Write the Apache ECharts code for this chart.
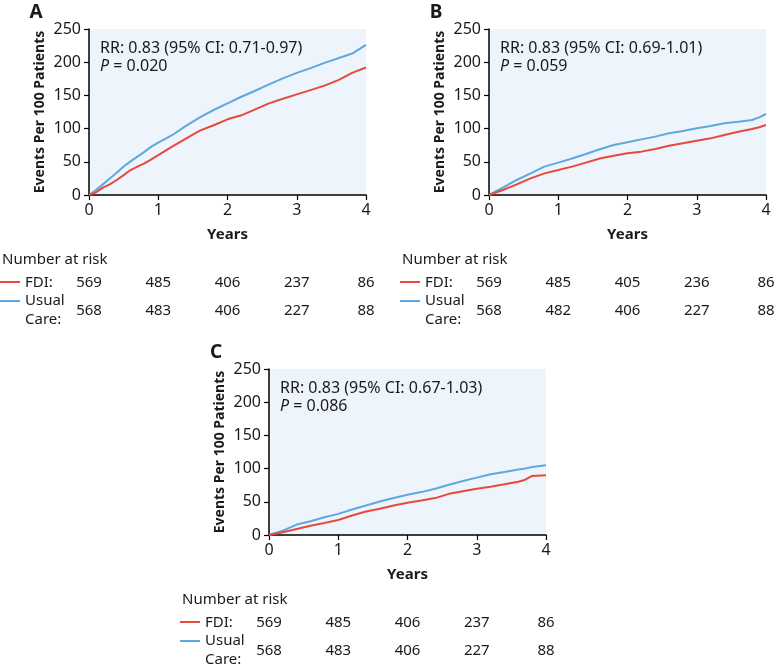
<!DOCTYPE html>
<html>
<head>
<meta charset="utf-8">
<script src="https://cdn.jsdelivr.net/npm/echarts@6/dist/echarts.min.js"></script>
<style>
html,body{margin:0;padding:0;background:#fff;}
#main{width:777px;height:669px;}
</style>
</head>
<body>
<div id="main"></div>
<script>
// ---------- DATA ----------
const panelLabels = ['A', 'B', 'C'];
const rrTexts = ['RR: 0.83 (95% CI: 0.71-0.97)', 'RR: 0.83 (95% CI: 0.69-1.01)', 'RR: 0.83 (95% CI: 0.67-1.03)'];
const pValues = ['0.020', '0.059', '0.086'];

const aTime  = [0, 0.1, 0.2, 0.3, 0.4, 0.5, 0.6, 0.7, 0.8, 0.9, 1.0, 1.2, 1.4, 1.6, 1.8, 2.0, 2.2, 2.4, 2.6, 2.8, 3.0, 3.2, 3.4, 3.6, 3.8, 4.0];
const aFdi   = [0, 4, 11, 16, 22.6, 30, 37.6, 42.7, 47.7, 53.7, 60, 72.8, 85, 97, 105, 114, 120, 129, 138, 145, 151.6, 158, 164.7, 173, 184, 192];
const aUsual = [0, 7.5, 16, 25, 33.6, 43, 50.7, 57.7, 65, 72.8, 79, 90, 104, 117, 128, 138, 148, 157, 166.7, 175.7, 184, 191, 199, 206, 213, 226];

const bTime  = [0, 0.2, 0.4, 0.6, 0.8, 1.0, 1.2, 1.4, 1.6, 1.8, 2.0, 2.2, 2.4, 2.6, 2.8, 3.0, 3.2, 3.4, 3.6, 3.8, 3.9, 4.0];
const bFdi   = [0, 7.5, 16, 25, 32.6, 37.6, 42.7, 48.7, 55, 59, 62.8, 65.3, 69.3, 74.3, 77.8, 81.8, 85.3, 90.4, 95.4, 99.4, 102, 105.4];
const bUsual = [0, 11, 22.6, 32.6, 42.7, 48.7, 55, 61.7, 68.8, 75.3, 79.3, 83.8, 87.9, 92.9, 96.4, 100.4, 104, 108, 110.4, 113, 117, 122];

const cTime  = [0, 0.2, 0.4, 0.6, 0.8, 1.0, 1.2, 1.4, 1.6, 1.8, 2.0, 2.2, 2.4, 2.6, 2.8, 3.0, 3.2, 3.4, 3.6, 3.7, 3.8, 4.0];
const cFdi   = [0, 4, 9, 14, 18, 22.7, 29.3, 35.4, 39.4, 44.4, 48.5, 52, 55.6, 62, 66, 69.7, 72.7, 76.3, 80.3, 83.3, 88.9, 90];
const cUsual = [0, 6.6, 15.7, 20.7, 26.8, 31.8, 38.4, 44.4, 50.5, 55.6, 60.6, 64.6, 69.7, 75.8, 81.3, 86.4, 91.4, 95, 98.5, 100, 102.5, 105];

const riskYears = [0, 1, 2, 3, 4];
const aRiskFdi = [569, 485, 406, 237, 86];
const aRiskUsual = [568, 483, 406, 227, 88];
const bRiskFdi = [569, 485, 405, 236, 86];
const bRiskUsual = [568, 482, 406, 227, 88];
const cRiskFdi = [569, 485, 406, 237, 86];
const cRiskUsual = [568, 483, 406, 227, 88];

const yTicks = [0, 50, 100, 150, 200, 250];
const xTicks = [0, 1, 2, 3, 4];

// ---------- STYLE / LAYOUT ----------
const FONT = '"Noto Sans", "Open Sans", sans-serif';
const RED = '#e8493b';
const BLUE = '#5ea8de';
const TXT = '#1a1a1a';
const offsets = [[0, 0], [400, 0], [180, 340]];
const times = [aTime, bTime, cTime];
const fdis = [aFdi, bFdi, cFdi];
const usuals = [aUsual, bUsual, cUsual];
const riskF = [aRiskFdi, bRiskFdi, cRiskFdi];
const riskU = [aRiskUsual, bRiskUsual, cRiskUsual];

const pairs = (t, v) => t.map((x, i) => [x, v[i]]);

const grids = [], xAxes = [], yAxes = [], series = [];
offsets.forEach(([dx, dy], i) => {
  grids.push({left: 89 + dx, top: 29 + dy, width: 277, height: 166,
    show: true, backgroundColor: '#eef4fb', borderWidth: 0, containLabel: false});
  xAxes.push({type: 'value', gridIndex: i, min: xTicks[0], max: xTicks[xTicks.length - 1], interval: 1,
    axisLine: {show: true, onZero: false, lineStyle: {color: '#000', width: 1.5}},
    axisTick: {show: true, length: 5, lineStyle: {color: '#000', width: 1.2}},
    axisLabel: {color: TXT, fontSize: 16, fontFamily: FONT, margin: 7},
    splitLine: {show: false},
    name: 'Years', nameLocation: 'middle', nameGap: 32,
    nameTextStyle: {color: TXT, fontSize: 15, fontWeight: 'bold', fontFamily: FONT}});
  yAxes.push({type: 'value', gridIndex: i, min: yTicks[0], max: yTicks[yTicks.length - 1], interval: 50,
    axisLine: {show: true, onZero: false, lineStyle: {color: '#000', width: 1.5}},
    axisTick: {show: true, length: 5, lineStyle: {color: '#000', width: 1.2}},
    axisLabel: {color: TXT, fontSize: 16, fontFamily: FONT, margin: 8},
    splitLine: {show: false},
    name: 'Events Per 100 Patients', nameLocation: 'middle', nameGap: 42,
    nameTextStyle: {color: TXT, fontSize: 14, fontWeight: 'bold', fontFamily: FONT}});
  series.push({type: 'line', name: 'Usual Care', xAxisIndex: i, yAxisIndex: i, data: pairs(times[i], usuals[i]),
    showSymbol: false, lineStyle: {color: BLUE, width: 2}, itemStyle: {color: BLUE}, animation: false});
  series.push({type: 'line', name: 'FDI', xAxisIndex: i, yAxisIndex: i, data: pairs(times[i], fdis[i]),
    showSymbol: false, lineStyle: {color: RED, width: 2}, itemStyle: {color: RED}, animation: false});
});

const chart = echarts.init(document.getElementById('main'), null, {renderer: 'canvas'});
chart.setOption({animation: false, grid: grids, xAxis: xAxes, yAxis: yAxes, series: series});

function txt(text, x, y, opts) {
  return {type: 'text', silent: true, style: Object.assign({
    text: text, x: x, y: y, fill: TXT, fontSize: 15, fontFamily: FONT,
    align: 'left', verticalAlign: 'middle'}, opts || {})};
}

const graphics = [];
offsets.forEach(([dx, dy], i) => {
  // panel label
  graphics.push(txt(panelLabels[i], 36 + dx, 13 + dy, {fontSize: 19, fontWeight: 'bold', align: 'center'}));
  // stats annotation
  graphics.push(txt(rrTexts[i], 100 + dx, 48 + dy, {fontSize: 16}));
  graphics.push(txt('{i|P} = ' + pValues[i], 100 + dx, 66 + dy, {fontSize: 16,
    rich: {i: {fontStyle: 'italic', fontSize: 16, fontFamily: FONT, fill: TXT}}}));
  // risk table
  graphics.push(txt('Number at risk', 2 + dx, 260 + dy));
  graphics.push({type: 'line', silent: true, shape: {x1: 0 + dx, y1: 282 + dy, x2: 20 + dx, y2: 282 + dy},
    style: {stroke: RED, lineWidth: 2}});
  graphics.push({type: 'line', silent: true, shape: {x1: 0 + dx, y1: 301 + dy, x2: 20 + dx, y2: 301 + dy},
    style: {stroke: BLUE, lineWidth: 2}});
  graphics.push(txt('FDI:', 25 + dx, 283 + dy));
  graphics.push(txt('Usual', 25 + dx, 301 + dy));
  graphics.push(txt('Care:', 25 + dx, 320 + dy));
  riskYears.forEach((yr, k) => {
    const px = chart.convertToPixel({xAxisIndex: i}, yr);
    graphics.push(txt(String(riskF[i][k]), px, 283 + dy, {align: 'center'}));
    graphics.push(txt(String(riskU[i][k]), px, 311 + dy, {align: 'center'}));
  });
});
chart.setOption({graphic: graphics});
</script>
</body>
</html>
